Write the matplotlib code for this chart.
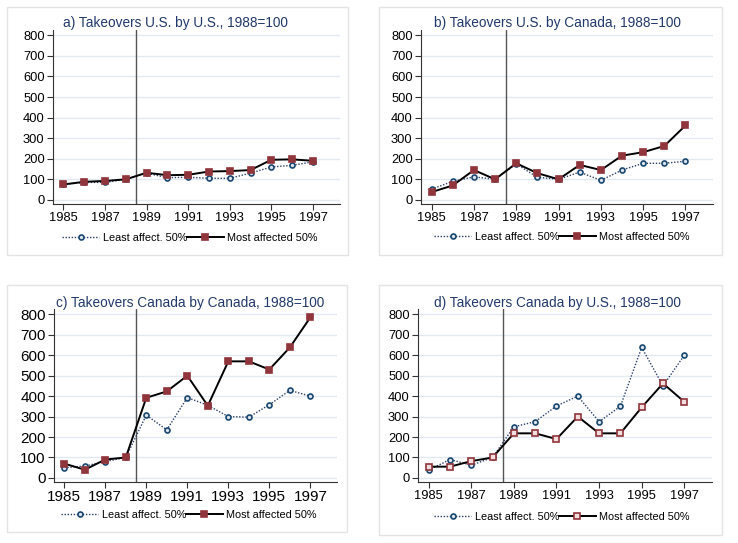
import matplotlib
matplotlib.use("Agg")
import matplotlib.pyplot as plt
from matplotlib.patches import Rectangle
from matplotlib.lines import Line2D

plt.rcParams["font.family"] = ["Liberation Sans", "DejaVu Sans"]

years = list(range(1985, 1998))

titles = [
    "a) Takeovers U.S. by U.S., 1988=100",
    "b) Takeovers U.S. by Canada, 1988=100",
    "c) Takeovers Canada by Canada, 1988=100",
    "d) Takeovers Canada by U.S., 1988=100",
]

least_a = [75, 85, 85, 100, 130, 108, 110, 105, 105, 130, 160, 168, 185]
most_a = [75, 88, 92, 100, 132, 120, 122, 138, 140, 145, 195, 197, 190]

least_b = [52, 90, 112, 100, 175, 110, 100, 135, 95, 145, 178, 178, 188]
most_b = [38, 70, 145, 100, 178, 130, 100, 170, 145, 215, 232, 262, 362]

least_c = [50, 58, 80, 100, 307, 235, 393, 355, 300, 297, 358, 428, 400]
most_c = [70, 40, 90, 100, 392, 423, 500, 353, 570, 570, 530, 638, 785]

least_d = [38, 90, 62, 100, 250, 275, 352, 400, 275, 350, 638, 450, 600]
most_d = [55, 55, 82, 100, 218, 218, 190, 300, 218, 218, 345, 462, 372]

least_all = [least_a, least_b, least_c, least_d]
most_all = [most_a, most_b, most_c, most_d]

xticks = [1985, 1987, 1989, 1991, 1993, 1995, 1997]
yticks = list(range(0, 801, 100))

W, H = 738, 543
NAVY = "#1a476f"
MAROON = "#90353b"
TITLE_C = "#22396b"

# pixel layout: axes box (l, r, top, bottom), panel frame, title center, legend center
axes_px = [(53, 340, 30, 204), (421, 713, 30, 204), (54, 337, 309, 482), (418, 712, 309, 482)]
frames_px = [(7, 348, 7, 255), (379, 722, 7, 255), (7, 347, 285, 532), (379, 722, 285, 535)]
title_xy = [(175, 23), (557, 23), (190, 303), (557, 303)]
legend_xy = [(190, 238), (562, 237), (189, 515), (562, 517)]
tick_fs = [9.3, 9.3, 11, 9.3]

fig = plt.figure(figsize=(W / 100, H / 100), dpi=100)
fig.patch.set_facecolor("white")

for i in range(4):
    fl, fr, ft, fb = frames_px[i]
    fig.patches.append(Rectangle((fl / W, 1 - fb / H), (fr - fl) / W, (fb - ft) / H,
                                 transform=fig.transFigure, facecolor="white",
                                 edgecolor="#e4e4e4", lw=1, zorder=-5))
    l, r, t, b = axes_px[i]
    ax = fig.add_axes([l / W, 1 - b / H, (r - l) / W, (b - t) / H], zorder=1)
    ax.set_xlim(1984.5, 1998.3)
    ax.set_ylim(-20, 826)
    for y in yticks:
        ax.axhline(y, color="#e3e9f1", lw=1, zorder=1)
    ax.axvline(1988.5, color="#555555", lw=1, zorder=2)

    least_face = "#dfe5ee"
    most_face = "#f2dede" if i == 3 else MAROON
    ax.plot(years, least_all[i], color="#2b3f66", ls=(0, (1, 1.2)), lw=1,
            marker="o", ms=3.6, mfc=least_face, mec=NAVY, mew=1.2, zorder=3)
    ax.plot(years, most_all[i], color="black", lw=1.4,
            marker="s", ms=5, mfc=most_face, mec=MAROON, mew=1.2, zorder=4)

    ax.set_xticks(xticks)
    ax.set_yticks(yticks)
    ax.tick_params(labelsize=tick_fs[i], length=4, width=0.8, color="#333333",
                   labelcolor="black", pad=2)
    for s in ["top", "right"]:
        ax.spines[s].set_visible(False)
    for s in ["left", "bottom"]:
        ax.spines[s].set_color("#333333")
        ax.spines[s].set_linewidth(0.8)
    ax.patch.set_alpha(0)

    tx, ty = title_xy[i]
    fig.text(tx / W, 1 - ty / H, titles[i], ha="center", va="center",
             fontsize=9.8, color=TITLE_C)

    h1 = Line2D([], [], color="#2b3f66", ls=(0, (1, 1.2)), lw=1, marker="o", ms=3.6,
                mfc=least_face, mec=NAVY, mew=1.2)
    h2 = Line2D([], [], color="black", lw=1.4, marker="s", ms=5, mfc=most_face,
                mec=MAROON, mew=1.2)
    lx, ly = legend_xy[i]
    fig.legend([h1, h2], ["Least affect. 50%", "Most affected 50%"], ncol=2,
               loc="center", bbox_to_anchor=(lx / W, 1 - ly / H), frameon=False,
               fontsize=7.8, handlelength=3.4, handletextpad=0.3, columnspacing=0.0,
               borderpad=0, borderaxespad=0)

fig.savefig("out.png", dpi=100, facecolor="white")
